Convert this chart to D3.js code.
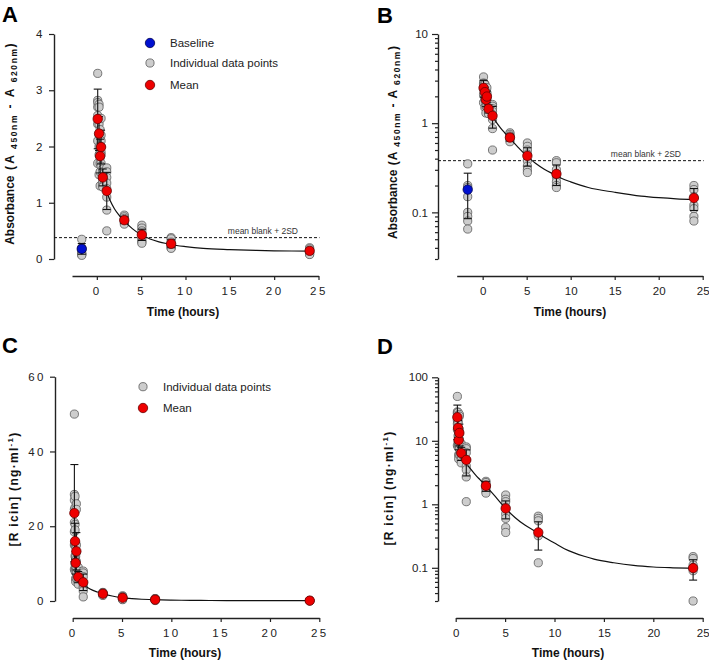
<!DOCTYPE html>
<html><head><meta charset="utf-8">
<script src="https://cdn.jsdelivr.net/npm/d3@7"></script>
<style>body{margin:0;background:#fff} text{font-family:"Liberation Sans",Arial,sans-serif}</style>
</head><body><svg id="c" width="709" height="662"></svg>
<script>
// ---------- data (panels A & B: absorbance) ----------
const timesAB = [0.1, 0.25, 0.37, 0.48, 0.67, 1.12, 3.1, 5.08, 8.38, 24];
const meansAB = [2.49, 2.23, 1.83, 1.99, 1.45, 1.21, 0.69, 0.43, 0.27, 0.145];
const sdAB    = [0.53, 0.3, 0.3, 0.3, 0.15, 0.33, 0.06, 0.1, 0.07, 0.04];
const indivAB = [
  [3.3, 2.82, 2.78, 2.7, 2.55, 2.4, 2.1, 1.7],
  [2.75, 2.7, 2.5, 2.4, 2.2, 2.0, 1.85, 1.5],
  [2.3, 2.2, 2.0, 1.9, 1.8, 1.7, 1.55, 1.3],
  [2.5, 2.2, 2.1, 2.0, 1.9, 1.85, 1.7, 1.65],
  [1.6, 1.55, 1.5, 1.45, 1.4, 1.35, 1.3, 1.28],
  [1.62, 1.55, 1.45, 1.35, 1.25, 1.1, 0.87, 0.5],
  [0.78, 0.75, 0.72, 0.7, 0.68, 0.65, 0.62],
  [0.6, 0.55, 0.5, 0.45, 0.38, 0.33, 0.3, 0.28],
  [0.38, 0.36, 0.3, 0.25, 0.22, 0.2, 0.19],
  [0.2, 0.18, 0.15, 0.12, 0.11, 0.09, 0.08]
];
const baselineTime  = -1.7;
const baselineMean  = 0.18;
const baselineSD    = 0.095;
const baselineIndiv = [0.35, 0.2, 0.19, 0.15, 0.1, 0.09, 0.08, 0.065];
const fitTimeAB = [1.1, 1.5, 2, 2.5, 3, 3.5, 4, 5, 5.5, 6, 7, 8, 9, 10, 12, 15, 18, 20, 22, 24];
const fitValAB  = [1.2, 1.04, 0.89, 0.78, 0.69, 0.61, 0.54, 0.43, 0.39, 0.355, 0.305, 0.27, 0.24, 0.22, 0.19, 0.168, 0.152, 0.146, 0.142, 0.14];
const blankThreshold = 0.38;

// ---------- data (panels C & D: ricin concentration) ----------
const timesCD = [0.17, 0.24, 0.30, 0.37, 0.56, 1.07, 3.06, 5.06, 8.36, 24.03];
const meansCD = [23.5, 16.0, 10.2, 13.3, 6.4, 5.0, 1.95, 0.86, 0.36, 0.099];
const sdCD    = [13.0, 4.8, 3.0, 5.0, 1.5, 2.2, 0.35, 0.27, 0.17, 0.035];
const indivCD = [
  [50, 28.5, 27, 24.5, 21, 18.5, 15, 8.5],
  [28, 25, 20.5, 19, 15, 12, 10, 8],
  [14.5, 12, 11, 10, 9, 8.5, 6, 5.2],
  [26, 24.5, 15, 13, 10.5, 9, 7.5, 6],
  [9, 8, 7, 6.5, 6, 5.5, 5, 4.5],
  [8, 7.5, 6.5, 5, 4, 3.5, 2.7, 1.1],
  [2.3, 2.2, 2.0, 1.9, 1.8, 1.6, 1.5],
  [1.4, 1.2, 1.1, 0.9, 0.7, 0.6, 0.43, 0.36],
  [0.65, 0.6, 0.55, 0.32, 0.12],
  [0.15, 0.14, 0.11, 0.1, 0.09, 0.03]
];
const fitTimeCD = [1.2, 1.5, 2, 2.5, 3, 4, 5, 6, 7, 8, 9, 10, 11, 12, 13, 14, 16, 18, 20, 22, 24];
const fitValCD  = [4.1, 3.6, 2.9, 2.4, 1.98, 1.33, 0.88, 0.62, 0.47, 0.38, 0.3, 0.245, 0.2, 0.172, 0.152, 0.137, 0.12, 0.109, 0.103, 0.1, 0.098];

// ---------- ticks ----------
const xTicks = [0, 5, 10, 15, 20, 25];
const yTicksA = [0, 1, 2, 3, 4];
const yTicksB = [0.1, 1, 10];
const yTicksC = [0, 20, 40, 60];
const yTicksD = [0.1, 1, 10, 100];

const svg = d3.select("#c");
const GRAY = "#cdcdcd", RED = "#ee0000", BLUE = "#0010d0";
const R_GRAY = 4.1, R_MEAN = 4.7;

function minorTicks(domain) {
  const out = [];
  for (let e = -3; e <= 3; e++) for (let m = 2; m <= 9; m++) {
    const v = m * Math.pow(10, e);
    if (v >= domain[0] * 0.999 && v <= domain[1] * 1.001) out.push(v);
  }
  return out;
}

function panel(cfg) {
  const g = svg.append("g");
  const x = cfg.x, y = cfg.y;
  const ya = g.append("g").attr("transform", `translate(${cfg.yAxisX},0)`)
    .call(d3.axisLeft(y).tickValues(cfg.yTicks).tickSize(cfg.log ? 6 : 5).tickSizeOuter(0)
      .tickFormat(cfg.yFmt).tickPadding(4));
  if (cfg.log) {
    g.append("g").attr("transform", `translate(${cfg.yAxisX},0)`)
      .call(d3.axisLeft(y).tickValues(minorTicks(y.domain())).tickSize(3).tickFormat("").tickSizeOuter(0))
      .select(".domain").remove();
  }
  const xa = g.append("g").attr("transform", `translate(0,${cfg.xAxisY})`)
    .call(d3.axisBottom(x).tickValues(xTicks).tickSize(4).tickSizeOuter(0).tickPadding(7));
  g.selectAll(".domain").attr("stroke", "#222").attr("stroke-width", 1.4);
  g.selectAll(".tick line").attr("stroke", "#222").attr("stroke-width", 1.2);
  g.selectAll(".tick text").attr("font-size", 11.5).attr("fill", "#222")
    .attr("font-family", '"Liberation Sans",Arial,sans-serif');
  if (cfg.spaced) {
    ya.selectAll(".tick text").attr("letter-spacing", "2.5px");
    xa.selectAll(".tick text").attr("letter-spacing", "2.5px");
  }

  if (cfg.threshold) {
    g.append("line").attr("x1", cfg.yAxisX).attr("x2", x.range()[1] + 1)
      .attr("y1", y(blankThreshold)).attr("y2", y(blankThreshold))
      .attr("stroke", "#111").attr("stroke-width", 1).attr("stroke-dasharray", "3,2");
    g.append("text").attr("x", cfg.thrTextX).attr("y", y(blankThreshold) - 4)
      .attr("text-anchor", "end").attr("font-size", 8.5).attr("fill", "#333").text("mean blank + 2SD");
  }

  const pts = [];
  cfg.times.forEach((t, i) => cfg.indiv[i].forEach(v => pts.push([t, v])));
  if (cfg.baseline) baselineIndiv.forEach(v => pts.push([baselineTime, v]));
  g.append("g").selectAll("circle").data(pts).join("circle")
    .attr("cx", d => x(d[0])).attr("cy", d => y(d[1])).attr("r", R_GRAY)
    .attr("fill", GRAY).attr("stroke", "#5a5a5a").attr("stroke-width", 0.8);

  const eb = cfg.times.map((t, i) => [t, cfg.means[i], cfg.sd[i]]);
  if (cfg.baseline) eb.push([baselineTime, baselineMean, baselineSD]);
  const ebg = g.append("g").attr("stroke", "#111").attr("stroke-width", 1.1);
  eb.forEach(d => {
    const lo = Math.max(d[1] - d[2], y.domain()[0]);
    const X = x(d[0]);
    ebg.append("line").attr("x1", X).attr("x2", X).attr("y1", y(lo)).attr("y2", y(d[1] + d[2]));
    ebg.append("line").attr("x1", X - 4).attr("x2", X + 4).attr("y1", y(d[1] + d[2])).attr("y2", y(d[1] + d[2]));
    if (d[1] - d[2] > y.domain()[0])
      ebg.append("line").attr("x1", X - 4).attr("x2", X + 4).attr("y1", y(lo)).attr("y2", y(lo));
  });

  const fit = cfg.fitT.map((t, i) => [t, cfg.fitV[i]]);
  g.append("path").datum(fit)
    .attr("d", d3.line().x(d => x(d[0])).y(d => y(d[1])).curve(d3.curveMonotoneX))
    .attr("fill", "none").attr("stroke", "#111").attr("stroke-width", 1.2);

  g.append("g").selectAll("circle").data(cfg.times.map((t, i) => [t, cfg.means[i]])).join("circle")
    .attr("cx", d => x(d[0])).attr("cy", d => y(d[1])).attr("r", R_MEAN)
    .attr("fill", RED).attr("stroke", "#6a0000").attr("stroke-width", 0.8);
  if (cfg.baseline) {
    g.append("circle").attr("cx", x(baselineTime)).attr("cy", y(baselineMean)).attr("r", R_MEAN)
      .attr("fill", BLUE).attr("stroke", "#000050").attr("stroke-width", 0.8);
  }

  g.append("text").attr("x", cfg.letterX).attr("y", cfg.letterY).attr("font-size", 22)
    .attr("font-weight", "bold").attr("fill", "#000").text(cfg.letter);
  g.append("text").attr("x", cfg.xTitleX).attr("y", cfg.xTitleY).attr("text-anchor", "middle")
    .attr("font-size", 12).attr("font-weight", "bold").attr("fill", "#111").text("Time (hours)");
  const yt = g.append("text").attr("transform", `translate(${cfg.yTitleX},${cfg.yTitleY}) rotate(-90)`)
    .attr("text-anchor", "middle").attr("font-size", 12).attr("font-weight", "bold").attr("fill", "#111");
  cfg.yTitle(yt);
  return g;
}

function absTitle(spread) {
  return t => {
    t.append("tspan").text("Absorbance");
    const s = t.append("tspan").attr("letter-spacing", spread + "px");
    s.text(spread > 1.5 ? "  (A" : " (A");
    t.append("tspan").attr("font-size", 8.5).attr("dy", 3).attr("letter-spacing", "1.6px").text(" 450nm");
    t.append("tspan").attr("dy", -3).attr("letter-spacing", spread + "px").text(" - A");
    t.append("tspan").attr("font-size", 8.5).attr("dy", 3).attr("letter-spacing", "1.6px").text(" 620nm");
    t.append("tspan").attr("dy", -3).attr("letter-spacing", spread + "px").text(")");
  };
}
function ricinTitle(t) {
  t.attr("letter-spacing", "1.3px");
  t.append("tspan").text("[R icin] (ng·ml");
  t.append("tspan").attr("font-size", 8).attr("dy", -5).text("-1");
  t.append("tspan").attr("dy", 5).text(")");
}

panel({
  letter: "A", letterX: 2, letterY: 22,
  x: d3.scaleLinear([-2.8, 25], [72, 318.5]), y: d3.scaleLinear([0, 4], [259, 34]),
  yAxisX: 54, xAxisY: 276, yTicks: yTicksA, yFmt: d3.format("d"), spaced: true,
  times: timesAB, means: meansAB, sd: sdAB, indiv: indivAB, baseline: true,
  fitT: fitTimeAB, fitV: fitValAB, threshold: true, thrTextX: 298,
  xTitleX: 183, xTitleY: 316, yTitleX: 14, yTitleY: 143, yTitle: absTitle(2.2)
});
panel({
  letter: "B", letterX: 377, letterY: 23,
  x: d3.scaleLinear([-2.95, 25], [456.7, 702.7]), y: d3.scaleLog([0.03, 10], [259, 34]), log: true,
  yAxisX: 438, xAxisY: 276, yTicks: yTicksB, yFmt: d => String(d), spaced: false,
  times: timesAB, means: meansAB, sd: sdAB, indiv: indivAB, baseline: true,
  fitT: fitTimeAB, fitV: fitValAB, threshold: true, thrTextX: 681,
  xTitleX: 570, xTitleY: 316, yTitleX: 397, yTitleY: 142, yTitle: absTitle(1)
});
panel({
  letter: "C", letterX: 2, letterY: 353,
  x: d3.scaleLinear([0, 25], [72.7, 319.3]), y: d3.scaleLinear([0, 60], [601, 376.7]),
  yAxisX: 55, xAxisY: 618, yTicks: yTicksC, yFmt: d3.format("d"), spaced: true,
  times: timesCD, means: meansCD, sd: sdCD, indiv: indivCD, baseline: false,
  fitT: fitTimeCD, fitV: fitValCD, threshold: false,
  xTitleX: 185, xTitleY: 657, yTitleX: 18, yTitleY: 489, yTitle: ricinTitle
});
panel({
  letter: "D", letterX: 377, letterY: 354,
  x: d3.scaleLinear([0, 25], [455.7, 702.7]), y: d3.scaleLog([0.03, 100], [601, 377.3]), log: true,
  yAxisX: 438, xAxisY: 618, yTicks: yTicksD, yFmt: d => String(d), spaced: false,
  times: timesCD, means: meansCD, sd: sdCD, indiv: indivCD, baseline: false,
  fitT: fitTimeCD, fitV: fitValCD, threshold: false,
  xTitleX: 568, xTitleY: 657, yTitleX: 393, yTitleY: 488, yTitle: ricinTitle
});

const legA = [["Baseline", BLUE, 43, R_MEAN], ["Individual data points", GRAY, 63, R_GRAY], ["Mean", RED, 85, R_MEAN]];
const legC = [["Individual data points", GRAY, 386.7, R_GRAY], ["Mean", RED, 408, R_MEAN]];
function legend(items, cx, tx) {
  const lg = svg.append("g");
  items.forEach(([label, col, cy, r]) => {
    lg.append("circle").attr("cx", cx).attr("cy", cy).attr("r", r).attr("fill", col)
      .attr("stroke", col === GRAY ? "#5a5a5a" : (col === RED ? "#6a0000" : "#000050")).attr("stroke-width", 0.8);
    lg.append("text").attr("x", tx).attr("y", cy + 4).attr("font-size", 11.5).attr("fill", "#222").text(label);
  });
}
legend(legA, 150, 170);
legend(legC, 143, 163);
</script></body></html>
